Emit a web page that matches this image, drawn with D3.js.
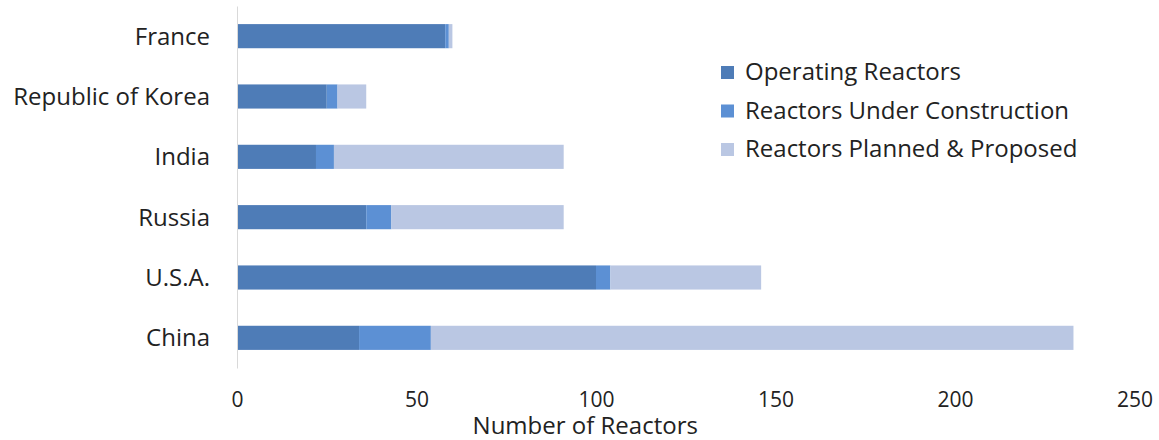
<html>
<head>
    <style>
        body {
            margin: 0;
            background: white;
            font-family: "Open Sans", sans-serif;
        }
        .y-axis path {
            stroke: #d9d9d9;
        }
        .x-axis path {
            display: none;
        }
        text {
            fill: #222;
        }
    </style>
    <script src="https://cdn.jsdelivr.net/npm/d3@7"></script>
</head>
<body>
    <div class="mainView"></div>
</body>
<script>
    // values
    let countries = ["France", "Republic of Korea", "India", "Russia", "U.S.A.", "China"]
    let operating = [58, 25, 22, 36, 100, 34]
    let underConstruction = [1, 3, 5, 7, 4, 20]
    let plannedProposed = [1, 8, 64, 48, 42, 179]
    let seriesNames = ["Operating Reactors", "Reactors Under Construction", "Reactors Planned & Proposed"]
    let seriesColors = ["#4e7cb7", "#5c90d4", "#bac7e3"]
    let xTicks = [0, 50, 100, 150, 200, 250]

    function buildRows() {
        return countries.map((c, i) => ({
            country: c,
            values: [operating[i], underConstruction[i], plannedProposed[i]]
        }))
    }

    function getChartConfig() {
        let width = 1159;
        let height = 440;
        let margin = { top: 6, left: 237, right: 24, bottom: 72 }
        let bodyWidth = 897.5;
        let bodyHeight = height - margin.top - margin.bottom;
        let svg = d3.select(".mainView")
            .append("svg")
            .attr("width", width)
            .attr("height", height)
        let container = svg.append("g")
            .attr("transform", "translate(" + [margin.left, margin.top] + ")")
        return { width, height, margin, bodyWidth, bodyHeight, svg, container }
    }

    function getChartScales(config) {
        let xScale = d3.scaleLinear()
            .domain([0, 250])
            .range([0, config.bodyWidth])
        let yScale = d3.scaleBand()
            .domain(countries)
            .range([0, config.bodyHeight])
            .paddingInner(0.6)
            .paddingOuter(0.3)
        let cScale = d3.scaleOrdinal()
            .domain(seriesNames)
            .range(seriesColors)
        return { xScale, yScale, cScale }
    }

    function drawBars(rows, scales, config) {
        let { xScale, yScale, cScale } = scales
        let stacked = d3.stack()
            .keys([0, 1, 2])
            .value((d, k) => d.values[k])(rows)
        config.container.selectAll(".series")
            .data(stacked)
            .enter()
            .append("g")
            .attr("class", "series")
            .attr("fill", d => cScale(seriesNames[d.key]))
            .selectAll("rect")
            .data(d => d)
            .enter()
            .append("rect")
            .attr("x", d => xScale(d[0]))
            .attr("width", d => xScale(d[1]) - xScale(d[0]))
            .attr("y", d => yScale(d.data.country))
            .attr("height", yScale.bandwidth())
    }

    function drawAxes(scales, config) {
        let { xScale, yScale } = scales
        let { container, bodyHeight, bodyWidth } = config

        container.append("g")
            .attr("class", "y-axis")
            .call(d3.axisLeft(yScale).tickSize(0).tickPadding(27).tickSizeOuter(0))
            .selectAll("text")
            .style("font-size", "24px")
            .style("font-family", "Open Sans")
            .attr("dy", "0.35em")

        container.append("g")
            .attr("class", "x-axis")
            .attr("transform", "translate(0," + bodyHeight + ")")
            .call(d3.axisBottom(xScale).tickValues(xTicks).tickSize(0).tickPadding(24))
            .selectAll("text")
            .style("font-size", "21px")
            .style("font-family", "Open Sans")

        container.append("text")
            .attr("x", xScale(97))
            .attr("y", bodyHeight + 60)
            .attr("text-anchor", "middle")
            .attr("dominant-baseline", "middle")
            .style("font-size", "24px")
            .text("Number of Reactors")
    }

    function drawLegend(scales, config) {
        let { cScale } = scales
        let legend = config.svg.append("g")
            .attr("transform", "translate(721,0)")
        let item = legend.selectAll(".item")
            .data(seriesNames)
            .enter()
            .append("g")
            .attr("class", "item")
            .attr("transform", (d, i) => "translate(0," + (72 + i * 38.5) + ")")
        item.append("rect")
            .attr("x", 0)
            .attr("y", -6)
            .attr("width", 13)
            .attr("height", 13)
            .attr("fill", d => cScale(d))
        item.append("text")
            .attr("x", 24)
            .attr("y", 0)
            .attr("dy", "0.35em")
            .style("font-size", "24px")
            .text(d => d)
    }

    function showData() {
        let rows = buildRows()
        let config = getChartConfig()
        let scales = getChartScales(config)
        drawBars(rows, scales, config)
        drawAxes(scales, config)
        drawLegend(scales, config)
    }
    showData()
</script>
</html>
